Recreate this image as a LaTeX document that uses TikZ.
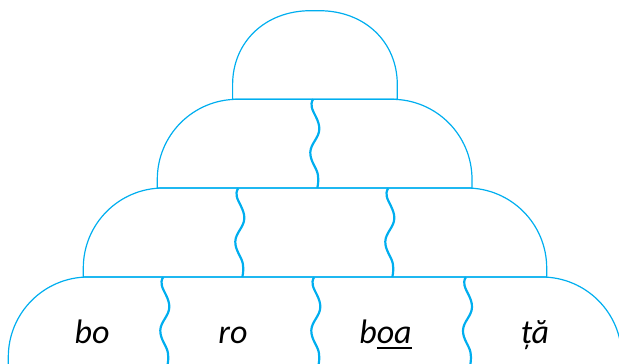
\documentclass[tikz,border=0pt]{standalone}
\usepackage{fontspec}
\setmainfont{Carlito}
\definecolor{cy}{RGB}{0,174,239}
\newcommand\ulbox[1]{\setbox0\hbox{#1}\rlap{\rule[-6pt]{\wd0}{2.5pt}}\box0}
% xl xr top base rx ry c
\newcommand\dome[7]{%
  \draw[outline] (#1,#4) -- ({#1},{#3+#6})
    .. controls ({#1},{#3+#6*#7}) and ({#1+#5*#7},{#3}) .. ({#1+#5},{#3})
    -- ({#2-#5},{#3})
    .. controls ({#2-#5*#7},{#3}) and ({#2},{#3+#6*#7}) .. ({#2},{#3+#6})
    -- (#2,#4) -- cycle;}
\newcommand\wave[2]{%
  \draw[wave] plot[smooth,tension=0.7] coordinates
   {(#1,#2) ({#1-1.5},{#2+8}) ({#1+6},{#2+30}) ({#1-3},{#2+53}) ({#1+4.5},{#2+75}) ({#1+4},{#2+88.5})};}
\begin{document}
\begin{tikzpicture}[x=1pt,y=-1pt,
  outline/.style={draw=cy,line width=1.2pt,line join=round},
  wave/.style={draw=cy,line width=2.2pt},
  word/.style={font=\fontsize{34}{40}\selectfont\itshape,anchor=base,inner sep=0pt}]
\useasboundingbox (0,0) rectangle (619,364);
\clip (0,0) rectangle (619,364);
% domes
\dome{8.3}{621.7}{277}{420}{80}{80}{0.4477}
\dome{83.3}{546.7}{188}{277}{80}{80}{0.4477}
\dome{157.3}{472}{99.3}{188}{80}{80}{0.4477}
\dome{232.6}{397.3}{10.7}{99.3}{78}{74}{0.42}
% waves
\wave{313.3}{99.3}
\wave{238.3}{188.5}
\wave{388.3}{188.5}
\wave{163.3}{277.3}
\wave{314.3}{277.3}
\wave{466}{277.3}
% words
\node[word] (bo) at (92,343) {bo};
\node[word] (ro) at (233,343) {ro};
\node[word] (boa) at (385.5,343) {b\ulbox{oa}};
\node[word] (ta) at (535,343) {ță};
\end{tikzpicture}
\end{document}
